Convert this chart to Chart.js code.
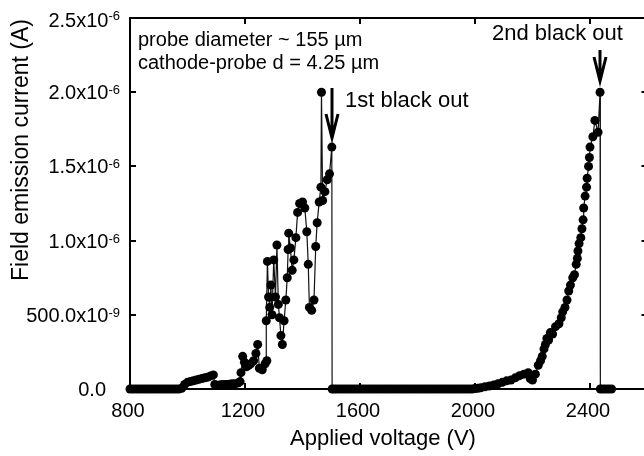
<!DOCTYPE html>
<html>
<head>
<meta charset="utf-8"/>
<title>Field emission current</title>
<script src="https://cdn.jsdelivr.net/npm/chart.js"></script>
<style>
html, body{
  margin: 0;
  padding: 0;
  background: #fff;
  overflow: hidden;
}
#wrap{
  position: relative;
  width: 656px;
  height: 456px;
}
</style>
</head>
<body>
<div id="wrap"><canvas id="fe"></canvas></div>
<script>
// first sweep (V, current in µA)
const volt1 = [800, 810, 820, 830, 840, 850, 860, 870, 880, 890, 900, 910, 920, 930, 940, 950, 960, 970, 980,
  990, 1000, 1010, 1020, 1030, 1040, 1050, 1060, 1070, 1080, 1090,
  1095, 1105, 1115, 1125, 1135, 1145, 1155, 1165, 1175, 1183,
  1186, 1192, 1198, 1205, 1213, 1220, 1230, 1238, 1244, 1250, 1260, 1270, 1276,
  1274, 1278, 1282, 1286, 1290, 1294, 1300, 1306, 1311, 1316, 1320, 1325, 1330,
  1336, 1342, 1347, 1350, 1352, 1358, 1364, 1370, 1377, 1383, 1390, 1400, 1408,
  1415, 1420, 1424, 1432, 1440, 1446, 1451, 1458, 1464, 1466, 1470, 1478, 1486,
  1494, 1502, 1503];
const curr1 = [0, 0, 0, 0, 0, 0, 0, 0, 0, 0, 0, 0, 0, 0, 0, 0, 0, 0, 0.005,
  0.03, 0.045, 0.05, 0.055, 0.06, 0.065, 0.07, 0.075, 0.08, 0.088, 0.095,
  0.03, 0.025, 0.028, 0.03, 0.03, 0.032, 0.035, 0.035, 0.04, 0.05,
  0.11, 0.22, 0.18, 0.15, 0.16, 0.17, 0.19, 0.24, 0.30, 0.14, 0.13, 0.17, 0.19,
  0.46, 0.86, 0.62, 0.55, 0.70, 0.50, 0.87, 0.62, 0.97, 0.57, 0.48, 0.36, 0.30,
  0.46, 0.60, 0.75, 0.94, 1.05, 0.95, 0.80, 0.87, 1.02, 1.19, 1.25, 1.26, 1.22,
  1.06, 0.84, 0.55, 0.53, 0.60, 0.96, 1.12, 1.26, 1.36, 2.00, 1.27, 1.33, 1.41,
  1.45, 1.63, 0];

// second sweep
const volt2 = [1510, 1520, 1530, 1540, 1550, 1560, 1570, 1580, 1590, 1600,
  1610, 1620, 1630, 1640, 1650, 1660, 1670, 1680, 1690, 1700,
  1710, 1720, 1730, 1740, 1750, 1760, 1770, 1780, 1790, 1800,
  1810, 1820, 1830, 1840, 1850, 1860, 1870, 1880, 1890, 1900,
  1910, 1920, 1930, 1940, 1950, 1960, 1970, 1980, 1990, 2000, 2010,
  2020, 2035, 2050, 2065, 2080, 2095, 2110, 2125, 2140, 2155, 2170, 2185,
  2192, 2200, 2210, 2220, 2228, 2234, 2240, 2245, 2250, 2256, 2262, 2270,
  2280, 2292, 2300, 2305, 2313, 2320, 2326, 2332, 2340, 2346, 2352, 2356,
  2358, 2362, 2368, 2372, 2376, 2378, 2383, 2388, 2390, 2395, 2398, 2400,
  2410, 2417, 2428, 2435, 2436, 2445, 2455, 2465, 2475];
const curr2 = [0, 0, 0, 0, 0, 0, 0, 0, 0, 0,
  0, 0, 0, 0, 0, 0, 0, 0, 0, 0,
  0, 0, 0, 0, 0, 0, 0, 0, 0, 0,
  0, 0, 0, 0, 0, 0, 0, 0, 0, 0,
  0, 0, 0, 0, 0, 0, 0, 0, 0, 0.003, 0.005,
  0.008, 0.015, 0.02, 0.027, 0.035, 0.045, 0.055, 0.06, 0.075, 0.09, 0.10, 0.11,
  0.07, 0.06, 0.10, 0.16, 0.19, 0.22, 0.27, 0.30, 0.34, 0.33, 0.38, 0.37,
  0.42, 0.44, 0.48, 0.52, 0.55, 0.60, 0.66, 0.70, 0.75, 0.77, 0.84, 0.88,
  0.93, 0.98, 1.02, 1.08, 1.14, 1.22, 1.30, 1.36, 1.42, 1.50, 1.56, 1.63,
  1.70, 1.81, 1.73, 2.00, 0, 0, 0, 0, 0];

// axis ticks
const xTicks = [800, 1200, 1600, 2000, 2400];
const yTicks = [0, 0.5, 1.0, 1.5, 2.0, 2.5];
const yTickText = ['0.0', '500.0x10', '1.0x10', '1.5x10', '2.0x10', '2.5x10'];
const yTickExp = ['', '-9', '-6', '-6', '-6', '-6'];

const FONT = '"Liberation Sans", Arial, Helvetica, sans-serif';

function toPoints(vs, cs){
  return vs.map(function(v, i){ return {x: v, y: cs[i]}; });
}

function arrowDown(ctx, x, y0, y1){
  ctx.beginPath();
  ctx.moveTo(x, y0);
  ctx.lineTo(x, y1 - 2);
  ctx.moveTo(x - 6, y1 - 24);
  ctx.lineTo(x, y1);
  ctx.lineTo(x + 6, y1 - 24);
  ctx.stroke();
}

const frame = {
  id: 'frame',
  beforeDatasetsDraw(chart){
    const ctx = chart.ctx;
    const a = chart.chartArea;
    const x = chart.scales.x, y = chart.scales.y;
    ctx.save();
    ctx.strokeStyle = '#000';
    ctx.lineWidth = 2;
    ctx.strokeRect(a.left, a.top, a.right - a.left, a.bottom - a.top);
    ctx.beginPath();
    xTicks.forEach(function(v){
      const px = Math.round(x.getPixelForValue(v));
      ctx.moveTo(px, a.bottom); ctx.lineTo(px, a.bottom - 6);
      ctx.moveTo(px, a.top); ctx.lineTo(px, a.top + 6);
    });
    yTicks.forEach(function(v){
      const py = Math.round(y.getPixelForValue(v));
      ctx.moveTo(a.left, py); ctx.lineTo(a.left + 6, py);
      ctx.moveTo(a.right, py); ctx.lineTo(a.right - 6, py);
    });
    ctx.stroke();

    ctx.fillStyle = '#000';
    // x tick labels
    ctx.font = '20px ' + FONT;
    ctx.textAlign = 'center';
    ctx.textBaseline = 'alphabetic';
    xTicks.forEach(function(v){
      ctx.fillText(String(v), x.getPixelForValue(v) - 2, 417);
    });
    // y tick labels with superscript
    yTicks.forEach(function(v, i){
      const py = y.getPixelForValue(v);
      const exp = yTickExp[i];
      ctx.font = '13px ' + FONT;
      const ew = exp ? ctx.measureText(exp).width : 0;
      const right = exp ? 120 : 106;
      ctx.textAlign = 'left';
      if(exp) ctx.fillText(exp, right - ew, py + 2);
      ctx.font = '20px ' + FONT;
      ctx.textAlign = 'right';
      ctx.fillText(yTickText[i], right - ew, py + (i === 5 ? 9 : 7));
    });
    // axis titles
    ctx.font = '22px ' + FONT;
    ctx.textAlign = 'center';
    ctx.fillText('Applied voltage (V)', 383, 445);
    ctx.save();
    ctx.translate(28, 150);
    ctx.rotate(-Math.PI / 2);
    ctx.font = '23px ' + FONT;
    ctx.fillText('Field emission current (A)', 0, 0);
    ctx.restore();
    ctx.restore();
  },
  afterDatasetsDraw(chart){
    const ctx = chart.ctx;
    const x = chart.scales.x;
    ctx.save();
    ctx.fillStyle = '#000';
    ctx.strokeStyle = '#000';
    ctx.textAlign = 'left';
    ctx.textBaseline = 'alphabetic';
    ctx.font = '20px ' + FONT;
    ctx.fillText('probe diameter ~ 155 \u00b5m', 138, 46);
    ctx.fillText('cathode-probe d = 4.25 \u00b5m', 138, 69);
    ctx.font = '22px ' + FONT;
    ctx.fillText('1st black out', 345, 107);
    ctx.fillText('2nd black out', 492, 40);
    ctx.lineWidth = 3;
    ctx.lineJoin = 'miter';
    arrowDown(ctx, Math.round(x.getPixelForValue(1503)), 88, 138);
    arrowDown(ctx, Math.round(x.getPixelForValue(2435)), 50, 81);
    ctx.restore();
  }
};

const series = {
  borderColor: '#111',
  backgroundColor: '#000',
  borderWidth: 1.2,
  pointRadius: 4.5,
  pointBorderWidth: 0,
  pointBackgroundColor: '#000',
  showLine: true,
  tension: 0,
  clip: false
};

new Chart(document.getElementById('fe'), {
  type: 'scatter',
  data: {
    datasets: [
      Object.assign({label: 'sweep 1', data: toPoints(volt1, curr1)}, series),
      Object.assign({label: 'sweep 2', data: toPoints(volt2, curr2)}, series)
    ]
  },
  options: {
    responsive: true,
    maintainAspectRatio: false,
    animation: false,
    layout: {padding: {left: 130, top: 18, right: 8.5, bottom: 67}},
    plugins: {legend: {display: false}, tooltip: {enabled: false}},
    scales: {
      x: {type: 'linear', min: 800, max: 2600, display: false},
      y: {type: 'linear', min: 0, max: 2.5, display: false}
    }
  },
  plugins: [frame]
});
</script>
</body>
</html>
